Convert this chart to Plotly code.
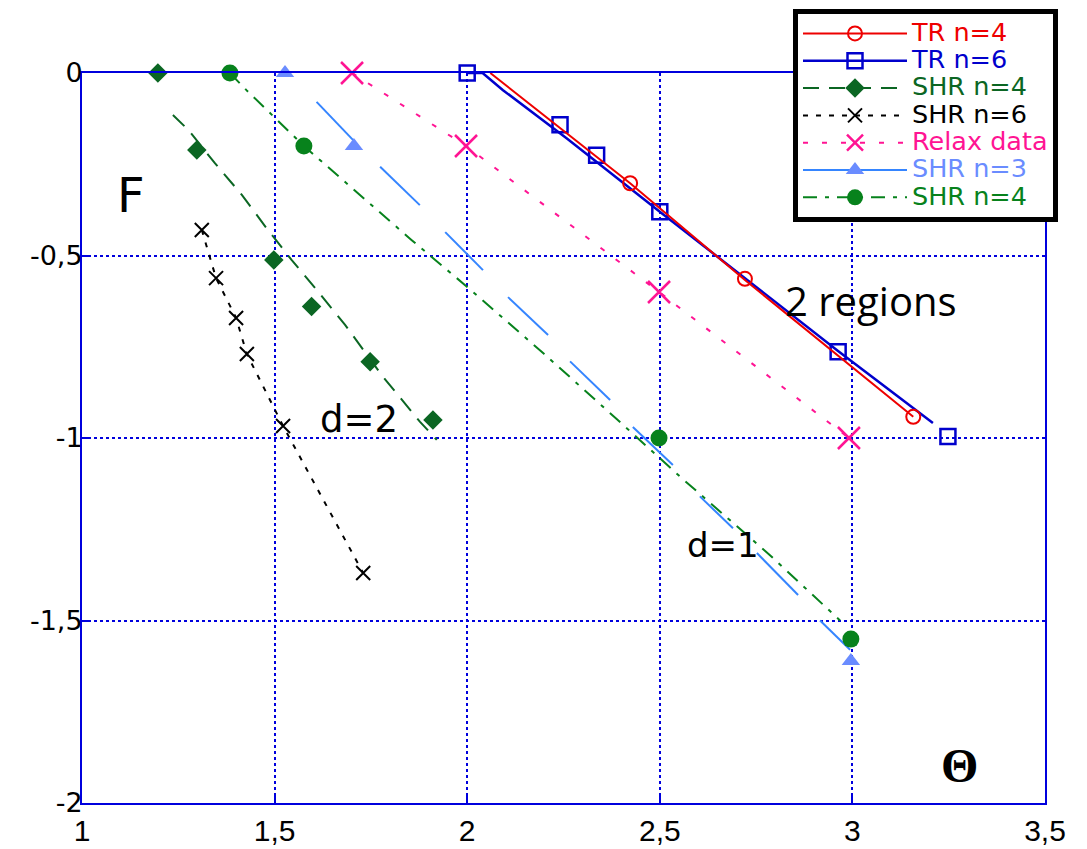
import plotly.graph_objects as go

# ---------------- data ----------------
tr4_line_x = [2.06, 2.423, 2.721, 3.158]
tr4_line_y = [0.0, -0.302, -0.567, -0.942]
tr4_mark_x = [2.423, 2.721, 3.158]
tr4_mark_y = [-0.302, -0.564, -0.942]

tr6_line_x = [2.0, 2.04, 2.093, 2.15, 2.258, 2.5, 2.961, 3.209]
tr6_line_y = [0.0, 0.0, -0.047, -0.092, -0.179, -0.38, -0.76, -0.959]
tr6_mark_x = [2.0, 2.241, 2.336, 2.5, 2.963, 3.248]
tr6_mark_y = [0.0, -0.142, -0.225, -0.38, -0.764, -0.996]

shr4a_line_x = [1.236, 1.276, 1.345, 1.415, 1.479, 1.544, 1.613, 1.683, 1.781, 1.877, 1.921]
shr4a_line_y = [-0.115, -0.156, -0.247, -0.334, -0.425, -0.512, -0.599, -0.690, -0.832, -0.955, -1.005]
shr4a_mark_x = [1.197, 1.298, 1.498, 1.596, 1.748, 1.911]
shr4a_mark_y = [0.0, -0.211, -0.512, -0.640, -0.791, -0.951]

shr6_x = [1.311, 1.348, 1.400, 1.428, 1.522, 1.730]
shr6_y = [-0.430, -0.562, -0.671, -0.770, -0.967, -1.370]

relax_x = [1.701, 1.997, 2.498, 2.991]
relax_y = [0.0, -0.2, -0.6, -1.0]

# SHR n=3 drawn as separate short segments (None = gap)
shr3_line_x = [1.609, 1.704, None, 1.774, 1.877, None, 1.943, 2.041, None, 2.106, 2.21, None,
               2.267, 2.371, None, 2.43, 2.534, None, 2.604, 2.69, None, 2.752, 2.859, None, 2.916, 2.994]
shr3_line_y = [-0.079, -0.184, None, -0.257, -0.362, None, -0.436, -0.54, None, -0.614, -0.718, None,
               -0.79, -0.896, None, -0.97, -1.074, None, -1.16, -1.247, None, -1.315, -1.43, None, -1.5, -1.58]
shr3_mark_x = [1.527, 1.706, 2.996]
shr3_mark_y = [0.0, -0.2, -1.611]

shr4b_line_x = [1.384, 1.427, 1.576, 1.856, 2.0, 2.2, 2.388, 2.495, 2.557, 2.786, 2.968]
shr4b_line_y = [0.0, -0.047, -0.2, -0.458, -0.586, -0.77, -0.948, -1.052, -1.11, -1.321, -1.50]
shr4b_mark_x = [1.384, 1.576, 2.498, 2.996]
shr4b_mark_y = [0.0, -0.2, -1.0, -1.551]

x_ticks = [1, 1.5, 2, 2.5, 3, 3.5]
x_ticktext = ["1", "1,5", "2", "2,5", "3", "3,5"]
y_ticks = [0, -0.5, -1, -1.5, -2]
y_ticktext = ["0", "-0,5", "-1", "-1,5", "-2"]

# ---------------- styles ----------------
C_TR4 = "#ee0000"
C_TR6 = "#0000cc"
C_SHR4A = "#0b6623"
C_SHR6 = "#000000"
C_RELAX = "#ff1493"
C_SHR3L = "#3585ff"
C_SHR3M = "#6a8cff"
C_SHR4B = "#07821c"
AXC = "#0000dd"

series = [
    # name, line colour, dash, width, symbol, size, marker line width
    ("TR n=4", C_TR4, "solid", 2, "circle-open", 14, 2),
    ("TR n=6", C_TR6, "solid", 2.5, "square-open", 15, 2.5),
    ("SHR n=4", C_SHR4A, "16px,10px", 2, "diamond", 15, 0),
    ("SHR n=6", C_SHR6, "5px,8px", 2, "x-thin-open", 14, 2),
    ("Relax data", C_RELAX, "5px,14px", 2, "x-thin-open", 22, 2.5),
    ("SHR n=3", C_SHR3L, "solid", 2, "triangle-up", 16, 0),
    ("SHR n=4", C_SHR4B, "14px,8px,4px,8px", 2, "circle", 17, 0),
]
series_mark_color = [C_TR4, C_TR6, C_SHR4A, C_SHR6, C_RELAX, C_SHR3M, C_SHR4B]
series_lines = [
    (tr4_line_x, tr4_line_y), (tr6_line_x, tr6_line_y), (shr4a_line_x, shr4a_line_y),
    (shr6_x, shr6_y), (relax_x, relax_y), (shr3_line_x, shr3_line_y), (shr4b_line_x, shr4b_line_y),
]
series_marks = [
    (tr4_mark_x, tr4_mark_y), (tr6_mark_x, tr6_mark_y), (shr4a_mark_x, shr4a_mark_y),
    (shr6_x, shr6_y), (relax_x, relax_y), (shr3_mark_x, shr3_mark_y), (shr4b_mark_x, shr4b_mark_y),
]

fig = go.Figure()

draw_order = [1, 0, 2, 3, 4, 5, 6]
for i in draw_order:
    name, col, dash, w, sym, sz, mlw = series[i]
    lx, ly = series_lines[i]
    mx, my = series_marks[i]
    mcol = series_mark_color[i]
    fig.add_trace(go.Scatter(x=lx, y=ly, mode="lines", showlegend=False, hoverinfo="skip",
                             line=dict(color=col, dash=dash, width=w)))
    fig.add_trace(go.Scatter(x=mx, y=my, mode="markers", showlegend=False, cliponaxis=False,
                             marker=dict(symbol=sym, size=sz, color=mcol,
                                         line=dict(color=mcol, width=mlw))))

# legend entries (no data, only for the legend)
for i, (name, col, dash, w, sym, sz, mlw) in enumerate(series):
    mcol = series_mark_color[i]
    tcol = mcol if i == 5 else col
    fig.add_trace(go.Scatter(
        x=[None], y=[None], mode="lines+markers",
        name=f"<span style='color:{tcol};font-size:25.5px'>{name}</span>",
        line=dict(color=col, dash=dash, width=w),
        marker=dict(symbol=sym, size=min(sz, 16), color=mcol, line=dict(color=mcol, width=mlw)),
        legendrank=i + 1,
    ))

# The page body adds an 8 px offset, so the figure is 8 px smaller and the
# left/top margins 8 px smaller: the plot area then sits at 82..1045 x 73..803.
fig.update_layout(
    width=1079, height=841,
    margin=dict(l=74, r=42, t=65, b=46, autoexpand=False),
    paper_bgcolor="white", plot_bgcolor="white",
    font=dict(family="DejaVu Sans, Liberation Sans, Arial", color="black"),
    legend=dict(
        x=(793 - 82) / 963, y=1 + 64.5 / 730, xanchor="left", yanchor="top",
        bgcolor="white", bordercolor="black", borderwidth=5,
        font=dict(size=18.7, family="DejaVu Sans, Liberation Sans, Arial"),
        title=dict(text="&nbsp;", font=dict(size=1)),
        itemwidth=104, tracegroupgap=0,
    ),
    xaxis=dict(range=[1, 3.5], tickvals=x_ticks, ticktext=x_ticktext,
               showline=True, linecolor=AXC, linewidth=2, mirror=True,
               ticks="inside", ticklen=7, tickcolor=AXC, tickwidth=1.5,
               showgrid=True, gridcolor=AXC, griddash="dot", gridwidth=1.5,
               zeroline=False,
               tickfont=dict(size=30, family="Liberation Sans Narrow, Arial Narrow, Liberation Sans"),
               ),
    yaxis=dict(range=[-2, 0], tickvals=y_ticks, ticktext=y_ticktext,
               showline=True, linecolor=AXC, linewidth=2, mirror=True,
               ticks="inside", ticklen=7, tickcolor=AXC, tickwidth=1.5,
               showgrid=True, gridcolor=AXC, griddash="dot", gridwidth=1.5,
               zeroline=False, ticklabelstandoff=-8,
               tickfont=dict(size=27, family="DejaVu Sans, Liberation Sans, Arial"),
               ),
)

annos = [
    ("F", 1.127, -0.334, 48, "DejaVu Sans, Liberation Sans"),
    ("2 regions", 3.048, -0.622, 40, "Open Sans, Liberation Sans"),
    ("d=2", 1.719, -0.948, 37, "DejaVu Sans, Liberation Sans"),
    ("d=1", 2.664, -1.293, 34, "DejaVu Sans, Liberation Sans"),
    ("<b>Θ</b>", 3.279, -1.896, 48, "Liberation Serif, Times New Roman"),
]
for t, ax_, ay_, fs, fam in annos:
    fig.add_annotation(x=ax_, y=ay_, xref="x", yref="y", text=t, showarrow=False,
                       font=dict(size=fs, family=fam, color="black"))

fig.write_html("out.html")
